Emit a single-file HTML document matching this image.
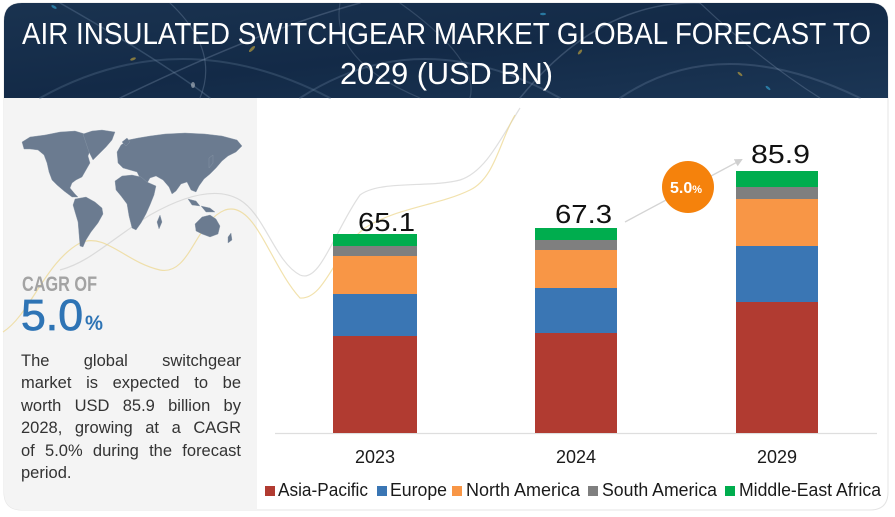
<!DOCTYPE html>
<html>
<head>
<meta charset="utf-8">
<style>
  html,body{margin:0;padding:0;background:#ffffff;}
  body{width:895px;height:517px;position:relative;overflow:hidden;font-family:"Liberation Sans",Arial,sans-serif;}
  svg{position:absolute;left:0;top:0;}
  .para{position:absolute;left:21px;width:220px;font-size:16.5px;color:#333;font-family:"Liberation Sans",sans-serif;line-height:22px;}
  .para div{height:22.4px;text-align:justify;text-align-last:justify;white-space:nowrap;}
  .para div.j{white-space:normal;}
  .para div.last{text-align:left;text-align-last:left;}
</style>
</head>
<body>
<svg width="895" height="517" viewBox="0 0 895 517" xmlns="http://www.w3.org/2000/svg">
  <defs>
    <linearGradient id="hdr" x1="0" y1="0" x2="1" y2="1">
      <stop offset="0" stop-color="#1a3350"/>
      <stop offset="0.5" stop-color="#132a47"/>
      <stop offset="1" stop-color="#1b3655"/>
    </linearGradient>
    <clipPath id="cardclip">
      <path d="M22,3 H870 Q888,3 888,21 V492 Q888,510 870,510 H22 Q4,510 4,492 V21 Q4,3 22,3 Z"/>
    </clipPath>
    <marker id="arr" markerWidth="8" markerHeight="8" refX="6" refY="4" orient="auto" markerUnits="userSpaceOnUse">
      <path d="M0,0 L8,4 L0,8 Z" fill="#cfcfcf"/>
    </marker>
  </defs>

  <!-- card -->
  <path d="M22,3 H870 Q888,3 888,21 V492 Q888,510 870,510 H22 Q4,510 4,492 V21 Q4,3 22,3 Z" fill="#ffffff" stroke="#e4e4e4" stroke-width="1"/>

  <g clip-path="url(#cardclip)">
    <!-- left panel -->
    <rect x="4" y="98" width="253" height="412" fill="#f4f4f4"/>
    <!-- header -->
    <rect x="4" y="3" width="884" height="95" fill="url(#hdr)"/>
    <g fill="none" stroke-linecap="round">
      <path d="M40,98 Q180,20 330,98" stroke="#5a7390" stroke-width="2" opacity="0.35"/>
      <path d="M60,3 Q160,60 210,98" stroke="#6d86a2" stroke-width="1.5" opacity="0.35"/>
      <path d="M120,98 Q260,30 360,3" stroke="#8aa0b8" stroke-width="1.5" opacity="0.3"/>
      <path d="M170,3 Q220,50 200,98" stroke="#8aa0b8" stroke-width="1.2" opacity="0.3"/>
      <path d="M300,98 Q420,20 560,98" stroke="#6d86a2" stroke-width="2" opacity="0.3"/>
      <path d="M340,3 Q330,60 420,98" stroke="#8aa0b8" stroke-width="1.2" opacity="0.25"/>
      <path d="M520,98 Q600,0 700,3" stroke="#8aa0b8" stroke-width="1.5" opacity="0.3"/>
      <path d="M620,98 Q720,30 860,98" stroke="#6d86a2" stroke-width="2" opacity="0.3"/>
      <path d="M700,3 Q760,60 820,98" stroke="#8aa0b8" stroke-width="1.2" opacity="0.3"/>
      <path d="M400,3 Q480,60 470,98" stroke="#8aa0b8" stroke-width="1.2" opacity="0.25"/>
    </g>
    <g opacity="0.55">
      <ellipse cx="54" cy="7" rx="3" ry="1.3" fill="#39b6e8" transform="rotate(30 54 7)"/>
      <ellipse cx="133" cy="59" rx="3" ry="1.3" fill="#e0b93a" transform="rotate(-20 133 59)"/>
      <ellipse cx="252" cy="49" rx="4" ry="1.5" fill="#e0b93a" transform="rotate(-45 252 49)"/>
      <ellipse cx="193" cy="85" rx="2" ry="3" fill="#c7ccd2"/>
      <ellipse cx="543" cy="14" rx="3" ry="1.2" fill="#39b6e8"/>
      <ellipse cx="580" cy="52" rx="3" ry="1.3" fill="#e0b93a" transform="rotate(-50 580 52)"/>
      <ellipse cx="768" cy="88" rx="3" ry="1.2" fill="#39b6e8" transform="rotate(40 768 88)"/>
      <ellipse cx="740" cy="74" rx="3" ry="1.2" fill="#e0b93a" transform="rotate(40 740 74)"/>
    </g>
  </g>

  <!-- title -->
  <text x="22" y="44" font-family="'Liberation Sans Narrow','Liberation Sans',sans-serif" font-size="31" fill="#ffffff" textLength="849" lengthAdjust="spacingAndGlyphs">AIR INSULATED SWITCHGEAR MARKET GLOBAL FORECAST TO</text>
  <text x="340" y="84" font-family="'Liberation Sans Narrow','Liberation Sans',sans-serif" font-size="31" fill="#ffffff" textLength="213" lengthAdjust="spacingAndGlyphs">2029 (USD BN)</text>

  <!-- decorative curves -->
  <g fill="none">
    <path d="M60,270 C90,262 110,240 150,215 C180,198 215,185 240,200 C265,215 275,262 300,275 C320,284 335,230 360,195 C380,180 430,188 460,180 C485,172 500,140 520,108" stroke="#c9c9c9" stroke-width="1.2" opacity="0.6"/>
    <path d="M3,332 C30,315 45,262 80,243 C105,232 125,262 160,270 C190,276 195,222 225,210 C255,200 270,265 300,298 C325,300 335,250 365,228 C395,208 440,205 470,190 C495,178 500,140 515,115" stroke="#ecd58a" stroke-width="1.2" opacity="0.7"/>
  </g>

  <!-- world map -->
  <g fill="#6b7b90" stroke="#8b99aa" stroke-width="0.4">
    <path d="M22,142 L30,137 L45,135 L60,132 L75,131 L85,134 L93,140 L91,148 L88,156 L90,163 L86,170 L82,177 L76,180 L72,183 L70,188 L75,194 L78,197 L72,197 L64,191 L57,185 L52,180 L49,172 L47,163 L44,155 L38,150 L30,149 L24,149 Z"/>
    <path d="M83,134 L92,131 L102,130 L115,132 L112,140 L106,147 L99,154 L93,160 L89,152 L86,143 Z"/>
    <path d="M75,199 L86,197 L95,202 L102,208 L103,214 L98,223 L91,232 L86,240 L83,247 L80,246 L79,234 L78,222 L75,212 L73,205 Z"/>
    <path d="M117,152 L121,145 L128,140 L138,138 L150,136 L165,134 L185,133 L205,134 L222,136 L237,140 L242,146 L236,152 L228,156 L222,161 L216,168 L210,174 L204,179 L199,186 L196,192 L191,190 L187,182 L181,184 L176,191 L172,194 L169,187 L163,180 L156,176 L150,178 L146,185 L141,180 L137,172 L130,170 L123,168 L118,163 Z"/>
    <path d="M115,181 L122,176 L132,175 L141,177 L147,182 L156,186 L154,195 L150,205 L146,214 L141,223 L136,230 L132,228 L129,216 L127,204 L121,196 L116,190 Z"/>
    <path d="M157,222 L160,215 L162,222 L159,229 Z"/>
    <path d="M195,224 L202,217 L210,215 L216,219 L220,226 L218,234 L210,237 L202,234 L196,231 Z"/>
    <path d="M188,199 L196,201 L200,206 L192,205 Z"/>
    <path d="M201,206 L210,208 L215,212 L206,212 Z"/>
    <path d="M209,158 L213,155 L213,163 L209,168 Z"/>
    <path d="M122,142 L127,138 L130,142 L126,146 Z"/>
    <path d="M228,237 L231,233 L232,240 L228,243 Z"/>
  </g>

  <!-- CAGR -->
  <text x="22" y="291" font-family="'Liberation Sans Narrow','Liberation Sans',sans-serif" font-size="21" font-weight="bold" fill="#a3a3a3" textLength="75" lengthAdjust="spacingAndGlyphs">CAGR OF</text>
  <text x="21" y="330" font-family="'Liberation Sans Narrow','Liberation Sans',sans-serif" font-size="44" fill="#2e74b5" stroke="#2e74b5" stroke-width="0.8" textLength="62" lengthAdjust="spacingAndGlyphs">5.0</text>
  <text x="85" y="330" font-family="'Liberation Sans Narrow','Liberation Sans',sans-serif" font-size="21" font-weight="bold" fill="#2e74b5" textLength="18" lengthAdjust="spacingAndGlyphs">%</text>

  <!-- axis -->
  <line x1="275" y1="433.5" x2="877" y2="433.5" stroke="#dedede" stroke-width="1.2"/>

  <!-- bar 2023 -->
  <rect x="333" y="336" width="84" height="97" fill="#b13b31"/>
  <rect x="333" y="294" width="84" height="42" fill="#3a76b4"/>
  <rect x="333" y="256" width="84" height="38" fill="#f89646"/>
  <rect x="333" y="246" width="84" height="10" fill="#7f7f7f"/>
  <rect x="333" y="234" width="84" height="12" fill="#00ad4e"/>
  <!-- bar 2024 -->
  <rect x="535" y="333" width="82" height="100" fill="#b13b31"/>
  <rect x="535" y="288" width="82" height="45" fill="#3a76b4"/>
  <rect x="535" y="250" width="82" height="38" fill="#f89646"/>
  <rect x="535" y="240" width="82" height="10" fill="#7f7f7f"/>
  <rect x="535" y="228" width="82" height="12" fill="#00ad4e"/>
  <!-- bar 2029 -->
  <rect x="736" y="302" width="82" height="131" fill="#b13b31"/>
  <rect x="736" y="246" width="82" height="56" fill="#3a76b4"/>
  <rect x="736" y="199" width="82" height="47" fill="#f89646"/>
  <rect x="736" y="187" width="82" height="12" fill="#7f7f7f"/>
  <rect x="736" y="171" width="82" height="16" fill="#00ad4e"/>

  <!-- totals -->
  <g font-family="'Liberation Sans',sans-serif" font-size="26" fill="#111111">
    <text x="358" y="231" textLength="57" lengthAdjust="spacingAndGlyphs">65.1</text>
    <text x="555" y="223" textLength="57" lengthAdjust="spacingAndGlyphs">67.3</text>
    <text x="751" y="163" textLength="59" lengthAdjust="spacingAndGlyphs">85.9</text>
  </g>

  <!-- growth arrow & badge -->
  <line x1="625" y1="222" x2="741" y2="160" stroke="#d4d4d4" stroke-width="1.3" marker-end="url(#arr)"/>
  <circle cx="688" cy="187" r="26" fill="#f5820c"/>
  <text x="670" y="193" font-family="'Liberation Sans',sans-serif" font-size="16" font-weight="bold" fill="#ffffff">5.0<tspan font-size="11">%</tspan></text>

  <!-- year labels -->
  <g font-family="'Liberation Sans',sans-serif" font-size="18" fill="#1a1a1a" text-anchor="middle">
    <text x="375" y="463">2023</text>
    <text x="576" y="463">2024</text>
    <text x="777" y="463">2029</text>
  </g>

  <!-- legend -->
  <g font-family="'Liberation Sans Narrow','Liberation Sans',sans-serif" font-size="18" fill="#1a1a1a">
    <rect x="265" y="486" width="10" height="10" fill="#b13b31"/>
    <text x="278" y="496" textLength="90" lengthAdjust="spacingAndGlyphs">Asia-Pacific</text>
    <rect x="377" y="486" width="10" height="10" fill="#3a76b4"/>
    <text x="390" y="496" textLength="57" lengthAdjust="spacingAndGlyphs">Europe</text>
    <rect x="452" y="486" width="10" height="10" fill="#f89646"/>
    <text x="466" y="496" textLength="114" lengthAdjust="spacingAndGlyphs">North America</text>
    <rect x="588" y="486" width="10" height="10" fill="#7f7f7f"/>
    <text x="602" y="496" textLength="115" lengthAdjust="spacingAndGlyphs">South America</text>
    <rect x="725" y="486" width="10" height="10" fill="#00ad4e"/>
    <text x="739" y="496" textLength="142" lengthAdjust="spacingAndGlyphs">Middle-East Africa</text>
  </g>
</svg>

<div class="para" style="top:350px;">
  <div class="j">The global switchgear</div>
  <div class="j">market is expected to be</div>
  <div class="j">worth USD 85.9 billion by</div>
  <div class="j">2028, growing at a CAGR</div>
  <div class="j">of 5.0% during the forecast</div>
  <div class="last">period.</div>
</div>
</body>
</html>
